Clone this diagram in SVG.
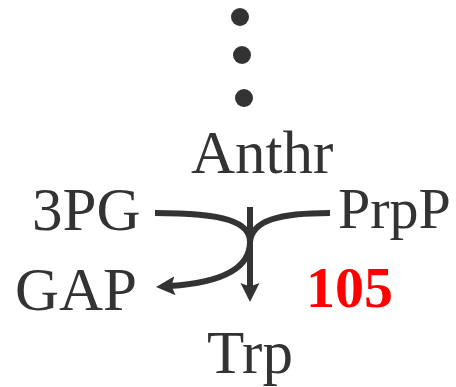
<svg xmlns="http://www.w3.org/2000/svg" width="456" height="387" viewBox="0 0 456 387">
  <style>
    .lbl { font-family: "Liberation Serif", "Times New Roman", serif; font-size: 61px; fill: #333; }
    .num { font-family: "Liberation Serif", "Times New Roman", serif; font-size: 58px; font-weight: bold; fill: #f00; }
    .edge { fill: none; stroke: #333; stroke-width: 6; }
    .dot { fill: #333; }
  </style>
  <defs>
    <marker id="arrow" markerUnits="userSpaceOnUse" markerWidth="22" markerHeight="22" viewBox="0 0 22 22" refX="5" refY="11" orient="auto">
      <path d="M0,1.5 L19,11 L0,20.5 L3.5,11 Z" fill="#333"/>
    </marker>
  </defs>

  <g id="dots">
    <circle class="dot" cx="240" cy="17" r="9"/>
    <circle class="dot" cx="242" cy="55" r="9"/>
    <circle class="dot" cx="244" cy="98" r="9"/>
  </g>

  <g id="connectors">
    <path class="edge" d="M155,213 C225,213 250,222 250,242 C250,272 215,283 170,286" marker-end="url(#arrow)"/>
    <path class="edge" d="M330,213 C280,213 252,220 250,242"/>
    <path class="edge" d="M250,207 L250,288" marker-end="url(#arrow)"/>
  </g>

  <g id="node-anthr"><text class="lbl" x="191" y="173">Anthr</text></g>
  <g id="node-3pg"><text class="lbl" x="32" y="230">3PG</text></g>
  <g id="node-prpp"><text class="lbl" x="338" y="228" style="font-size:58px">PrpP</text></g>
  <g id="node-gap"><text class="lbl" x="15" y="310">GAP</text></g>
  <g id="node-105"><text class="num" x="306" y="307">105</text></g>
  <g id="node-trp"><text class="lbl" x="207" y="373">Trp</text></g>
</svg>
